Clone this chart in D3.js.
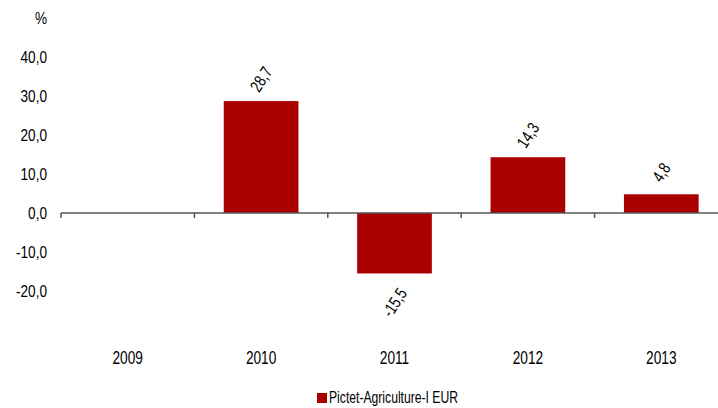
<!DOCTYPE html>
<html>
<head>
<meta charset="utf-8">
<script src="https://cdn.jsdelivr.net/npm/d3@7"></script>
<style>
  html,body{margin:0;padding:0;background:#fff;}
  svg text{font-family:"Liberation Sans",Arial,sans-serif;fill:#000;}
</style>
</head>
<body>
<div id="chart"></div>
<script>
// data
const years  = ['2009','2010','2011','2012','2013'];
const values = [null, 28.7, -15.5, 14.3, 4.8];
const yTicks = [-20, -10, 0, 10, 20, 30, 40];
const seriesName = 'Pictet-Agriculture-I EUR';

const W = 718, H = 408;
const red = '#aa0000';

const svg = d3.select('#chart').append('svg')
  .attr('width', W).attr('height', H);

// scales
const x = d3.scaleBand().domain(years).range([61, 728]).paddingInner(0.44).paddingOuter(0.22);
const y = d3.scaleLinear().domain([-30, 50]).range([330, 18]);

const fmt = v => d3.format('.1f')(v).replace('.', ',').replace('\u2212', '-');
// condensed look: squeeze text horizontally
const at = (px, py, sx) => `translate(${px},${py}) scale(${sx},1)`;

// y tick labels (no axis line)
svg.append('g').selectAll('text').data(yTicks).enter().append('text')
  .attr('transform', d => at(47, y(d), 0.8))
  .attr('dy', '0.35em')
  .attr('text-anchor', 'end')
  .style('font-size', '17px')
  .text(d => fmt(d));

svg.append('text')
  .attr('transform', at(47, y(50), 0.8)).attr('dy', '0.35em')
  .attr('text-anchor', 'end').style('font-size', '17px')
  .text('%');

// bars
const data = years.map((k, i) => ({ key: k, val: values[i] })).filter(d => d.val != null);
svg.selectAll('rect.bar').data(data).enter().append('rect')
  .attr('class', 'bar')
  .attr('x', d => x(d.key))
  .attr('width', x.bandwidth())
  .attr('y', d => y(Math.max(0, d.val)))
  .attr('height', d => Math.abs(y(d.val) - y(0)))
  .attr('fill', red);

// zero line + ticks between categories
svg.append('line')
  .attr('x1', 61).attr('x2', W).attr('y1', y(0)).attr('y2', y(0))
  .attr('stroke', '#555').attr('stroke-width', 1.5);
const half = x.step() * x.paddingInner() / 2;
svg.append('g').selectAll('line').data(years).enter().append('line')
  .attr('x1', d => x(d) - half).attr('x2', d => x(d) - half)
  .attr('y1', y(0)).attr('y2', y(0) + 5)
  .attr('stroke', '#555').attr('stroke-width', 1.5);

// category labels
svg.append('g').selectAll('text').data(years).enter().append('text')
  .attr('transform', d => at(x(d) + x.bandwidth() / 2, 357, 0.72))
  .attr('dy', '0.35em')
  .attr('text-anchor', 'middle')
  .style('font-size', '19px')
  .text(d => d);

// value labels (rotated)
svg.append('g').selectAll('text').data(data).enter().append('text')
  .attr('transform', d => {
    const cx = x(d.key) + x.bandwidth() / 2;
    const cy = d.val >= 0 ? y(d.val) - 22 : y(d.val) + 29;
    return `translate(${cx},${cy}) rotate(-57) scale(0.78,1)`;
  })
  .attr('dy', '0.35em')
  .attr('text-anchor', 'middle')
  .style('font-size', '17px')
  .text(d => fmt(d.val));

// legend
svg.append('rect').attr('x', 317).attr('y', 393).attr('width', 10).attr('height', 10).attr('fill', red);
svg.append('text').attr('transform', at(329, 403, 0.76))
  .style('font-size', '16px').text(seriesName);
</script>
</body>
</html>
